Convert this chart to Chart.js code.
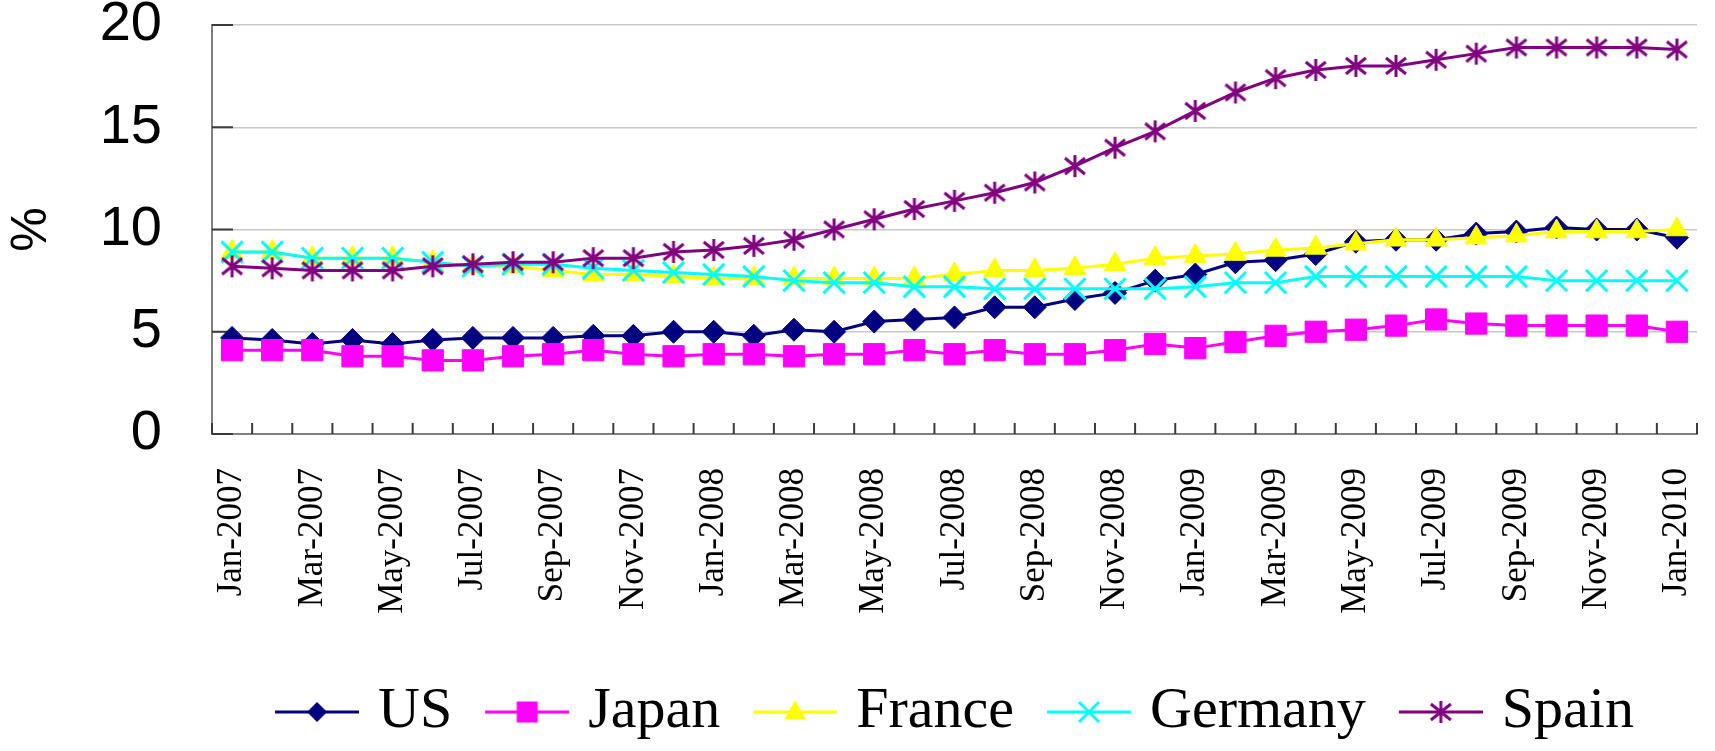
<!DOCTYPE html>
<html>
<head>
<meta charset="utf-8">
<title>Unemployment rate, 2007–2010</title>
<script src="https://cdn.jsdelivr.net/npm/chart.js@4/dist/chart.umd.min.js"></script>
<style>
  html, body { margin: 0; padding: 0; background: #ffffff; }
  #wrap { width: 1715px; height: 751px; position: relative; }
</style>
</head>
<body>
<div id="wrap"><canvas id="chart"></canvas></div>
<script>
// Monthly unemployment rates (%), Jan-2007 to Jan-2010
const months = [
  'Jan-2007','Feb-2007','Mar-2007','Apr-2007','May-2007','Jun-2007','Jul-2007','Aug-2007','Sep-2007','Oct-2007','Nov-2007','Dec-2007',
  'Jan-2008','Feb-2008','Mar-2008','Apr-2008','May-2008','Jun-2008','Jul-2008','Aug-2008','Sep-2008','Oct-2008','Nov-2008','Dec-2008',
  'Jan-2009','Feb-2009','Mar-2009','Apr-2009','May-2009','Jun-2009','Jul-2009','Aug-2009','Sep-2009','Oct-2009','Nov-2009','Dec-2009',
  'Jan-2010'
];

const us      = [4.7, 4.6, 4.4, 4.6, 4.4, 4.6, 4.7, 4.7, 4.7, 4.8, 4.8, 5.0,
                 5.0, 4.8, 5.1, 5.0, 5.5, 5.6, 5.7, 6.2, 6.2, 6.6, 6.9, 7.5,
                 7.8, 8.4, 8.5, 8.8, 9.4, 9.5, 9.5, 9.8, 9.9, 10.1, 10.0, 10.0,
                 9.6];
const japan   = [4.1, 4.1, 4.1, 3.8, 3.8, 3.6, 3.6, 3.8, 3.9, 4.1, 3.9, 3.8,
                 3.9, 3.9, 3.8, 3.9, 3.9, 4.1, 3.9, 4.1, 3.9, 3.9, 4.1, 4.4,
                 4.2, 4.5, 4.8, 5.0, 5.1, 5.3, 5.6, 5.4, 5.3, 5.3, 5.3, 5.3,
                 5.0];
const france  = [8.9, 8.9, 8.6, 8.6, 8.6, 8.4, 8.2, 8.2, 8.0, 7.8, 7.8, 7.7,
                 7.6, 7.6, 7.6, 7.6, 7.6, 7.6, 7.8, 8.0, 8.0, 8.1, 8.3, 8.6,
                 8.7, 8.8, 9.0, 9.1, 9.3, 9.5, 9.5, 9.6, 9.7, 9.9, 9.9, 9.9,
                 10.0];
const germany = [8.9, 8.9, 8.6, 8.6, 8.6, 8.4, 8.2, 8.3, 8.3, 8.1, 8.0, 7.9,
                 7.8, 7.7, 7.5, 7.4, 7.4, 7.2, 7.2, 7.1, 7.1, 7.1, 7.1, 7.1,
                 7.2, 7.4, 7.4, 7.7, 7.7, 7.7, 7.7, 7.7, 7.7, 7.5, 7.5, 7.5,
                 7.5];
const spain   = [8.2, 8.1, 8.0, 8.0, 8.0, 8.2, 8.3, 8.4, 8.4, 8.6, 8.6, 8.9,
                 9.0, 9.2, 9.5, 10.0, 10.5, 11.0, 11.4, 11.8, 12.3, 13.1, 14.0, 14.8,
                 15.8, 16.7, 17.4, 17.8, 18.0, 18.0, 18.3, 18.6, 18.9, 18.9, 18.9, 18.9,
                 18.8];

const yTicks = [0, 5, 10, 15, 20];

const COLORS = {
  us: '#000080', japan: '#ff00ff', france: '#ffff00', germany: '#00ffff', spain: '#800080'
};

// Hand-drawn marker shapes, used for the legend icons and the Spain asterisk
function drawMarker(g, shape, x, y, color) {
  g.save();
  g.fillStyle = color;
  g.strokeStyle = color;
  g.lineWidth = 3;
  g.beginPath();
  if (shape === 'diamond') {
    g.moveTo(x, y - 10); g.lineTo(x + 10, y); g.lineTo(x, y + 10); g.lineTo(x - 10, y); g.closePath(); g.fill();
  } else if (shape === 'square') {
    g.rect(x - 10.5, y - 10.5, 21, 21); g.fill();
  } else if (shape === 'triangle') {
    g.moveTo(x, y - 12); g.lineTo(x + 10.5, y + 7); g.lineTo(x - 10.5, y + 7); g.closePath(); g.fill();
  } else if (shape === 'x') {
    g.moveTo(x - 10, y - 10); g.lineTo(x + 10, y + 10);
    g.moveTo(x - 10, y + 10); g.lineTo(x + 10, y - 10); g.stroke();
  } else if (shape === 'asterisk') {
    g.moveTo(x, y - 11); g.lineTo(x, y + 11);
    g.moveTo(x - 10, y - 8); g.lineTo(x + 10, y + 8);
    g.moveTo(x - 10, y + 8); g.lineTo(x + 10, y - 8); g.stroke();
  }
  g.restore();
}

function asteriskImage(color) {
  const c = document.createElement('canvas');
  c.width = 26; c.height = 26;
  drawMarker(c.getContext('2d'), 'asterisk', 13, 13, color);
  return c;
}

function legendIcon(color, shape) {
  const c = document.createElement('canvas');
  c.width = 94; c.height = 30;
  const g = c.getContext('2d');
  g.strokeStyle = color;
  g.lineWidth = 3;
  g.beginPath(); g.moveTo(10, 15); g.lineTo(94, 15); g.stroke();
  drawMarker(g, shape, 52, 15, color);
  return c;
}

const legendShapes = ['diamond', 'square', 'triangle', 'x', 'asterisk'];

// Tick marks drawn on the inside of both axes
const insideTicks = {
  id: 'insideTicks',
  beforeDatasetsDraw(chart) {
    const { ctx, scales: { x, y }, chartArea } = chart;
    ctx.save();
    ctx.strokeStyle = '#3a3a3a';
    ctx.lineWidth = 2;
    ctx.beginPath();
    for (let i = 0; i <= months.length; i++) {
      const px = x.getPixelForValue(i - 0.5);
      ctx.moveTo(px, chartArea.bottom);
      ctx.lineTo(px, chartArea.bottom - 11);
    }
    y.ticks.forEach(t => {
      const py = y.getPixelForValue(t.value);
      ctx.moveTo(chartArea.left, py);
      ctx.lineTo(chartArea.left + 21, py);
    });
    ctx.stroke();
    ctx.restore();
  }
};

function series(label, data, color, extra) {
  return Object.assign({
    label, data,
    borderColor: color,
    backgroundColor: color,
    pointBackgroundColor: color,
    pointBorderColor: color,
    borderWidth: 3,
    pointBorderWidth: 1,
    tension: 0
  }, extra);
}

const datasets = [
  series('US', us, COLORS.us, { pointStyle: 'rectRot', pointRadius: 11.5, order: 5 }),
  series('Japan', japan, COLORS.japan, { pointStyle: 'rect', pointRadius: 15, order: 4 }),
  series('France', france, COLORS.france, { pointStyle: 'triangle', pointRadius: 12.5, order: 3 }),
  series('Germany', germany, COLORS.germany, { pointStyle: 'crossRot', pointRadius: 15, pointBorderWidth: 3, order: 2 }),
  series('Spain', spain, COLORS.spain, { pointStyle: asteriskImage(COLORS.spain), pointRadius: 11, order: 1 })
];

const legendIcons = datasets.map((ds, i) => legendIcon(ds.borderColor, legendShapes[i]));

new Chart(document.getElementById('chart'), {
  type: 'line',
  data: { labels: months, datasets },
  options: {
    responsive: true,
    maintainAspectRatio: false,
    animation: false,
    events: [],
    layout: { padding: { top: 25, right: 7, left: 0, bottom: 0 } },
    plugins: {
      tooltip: { enabled: false },
      legend: {
        position: 'bottom',
        fullSize: false,
        labels: {
          usePointStyle: true,
          pointStyleWidth: 74,
          padding: 33,
          color: '#000000',
          font: { family: 'Liberation Serif', size: 58 },
          generateLabels: (chart) => chart.data.datasets.map((ds, i) => ({
            text: ds.label,
            pointStyle: legendIcons[i],
            fillStyle: ds.borderColor,
            strokeStyle: ds.borderColor,
            lineWidth: 0,
            hidden: false,
            datasetIndex: i,
            fontColor: '#000000'
          }))
        }
      }
    },
    scales: {
      x: {
        type: 'category',
        offset: true,
        grid: { display: false, drawTicks: false },
        border: { display: true, color: '#808080', width: 2 },
        ticks: {
          autoSkip: false,
          minRotation: 90,
          maxRotation: 90,
          padding: 34,
          color: '#000000',
          font: { family: 'Liberation Serif', size: 35, lineHeight: 0.6 },
          callback: function (value, index) {
            return index % 2 === 0 ? months[index] : '';
          }
        },
        afterFit(scale) {
          scale.height = 216;
          scale.paddingLeft = 0;
          scale.paddingRight = 0;
        }
      },
      y: {
        min: 0,
        max: 20,
        afterBuildTicks(scale) {
          scale.ticks = yTicks.map(v => ({ value: v }));
        },
        grid: { color: '#c8c8c8', lineWidth: 1.5, drawTicks: false },
        border: { display: true, color: '#808080', width: 2 },
        ticks: {
          padding: 50,
          color: '#000000',
          font: { family: 'Liberation Sans', size: 56, lineHeight: 0.8 }
        },
        title: {
          display: true,
          text: '%',
          color: '#000000',
          padding: { top: 2, bottom: 0 },
          font: { family: 'Liberation Sans', size: 50 }
        },
        afterFit(scale) {
          scale.width = 212;
          scale.paddingTop = 0;
          scale.paddingBottom = 0;
        }
      }
    }
  },
  plugins: [insideTicks]
});
</script>
</body>
</html>
